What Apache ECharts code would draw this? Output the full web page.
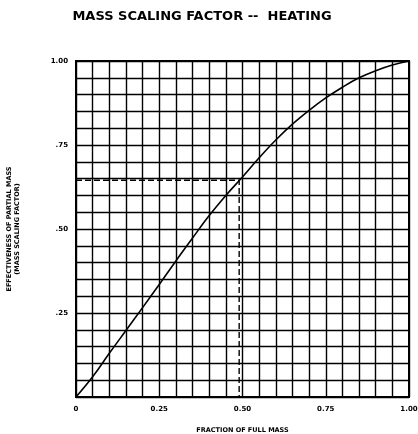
<!DOCTYPE html>
<html>
<head>
<meta charset="utf-8">
<script src="https://cdn.jsdelivr.net/npm/echarts@6/dist/echarts.min.js"></script>
<style>
  html, body { margin: 0; padding: 0; background: #fff; }
  #chart { width: 418px; height: 434px; }
</style>
</head>
<body>
<div id="chart"></div>
<script>
// Fraction of full mass (x) and effectiveness of partial mass (y)
var massFraction = [0, 0.05, 0.10, 0.15, 0.20, 0.25, 0.30, 0.35, 0.40, 0.45, 0.50,
                    0.55, 0.60, 0.65, 0.70, 0.75, 0.80, 0.85, 0.90, 0.95, 1.00];
var scalingFactor = [0, 0.06, 0.13, 0.198, 0.266, 0.335, 0.405, 0.473, 0.54, 0.60, 0.655,
                     0.712, 0.765, 0.812, 0.853, 0.89, 0.922, 0.95, 0.971, 0.988, 1.00];

// Worked example read-off point (dashed guide lines)
var examplePoint = [0.49, 0.645];

// Tick labels
var xTickLabels = { '0': '0', '0.25': '0.25', '0.5': '0.50', '0.75': '0.75', '1': '1.00' };
var yTickLabels = { '0.25': '.25', '0.5': '.50', '0.75': '.75', '1': '1.00' };

function keyOf(v) { return String(Math.round(v * 100) / 100); }

var curve = massFraction.map(function (x, i) { return [x, scalingFactor[i]]; });
var guide = [[0, examplePoint[1]], [examplePoint[0], examplePoint[1]], [examplePoint[0], 0]];

var chart = echarts.init(document.getElementById('chart'), null, { renderer: 'canvas' });
var labelFont = { color: '#000', fontFamily: 'DejaVu Sans', fontWeight: 'bold', fontSize: 7 };

chart.setOption({
  backgroundColor: '#fff',
  animation: false,
  title: {
    text: 'MASS SCALING FACTOR --  HEATING',
    left: 197, top: 5, textAlign: 'center',
    textStyle: { color: '#000', fontFamily: 'DejaVu Sans', fontWeight: 'bold', fontSize: 13 }
  },
  grid: {
    left: 76, right: 9, top: 61, bottom: 37,
    outerBoundsMode: 'none', containLabel: false,
    show: true, borderColor: '#000', borderWidth: 2, backgroundColor: '#fff'
  },
  xAxis: {
    type: 'value', min: 0, max: 1, interval: 0.05,
    name: 'FRACTION OF FULL MASS',
    nameLocation: 'middle', nameGap: 30,
    nameTextStyle: { color: '#000', fontFamily: 'DejaVu Sans', fontWeight: 'bold', fontSize: 6.5 },
    axisLine: { show: true, lineStyle: { color: '#000', width: 2 } },
    axisTick: { show: false },
    splitLine: { show: true, lineStyle: { color: '#000', width: 1.4 } },
    axisLabel: Object.assign({
      margin: 9,
      showMinLabel: true, showMaxLabel: true,
      formatter: function (v) { var t = xTickLabels[keyOf(v)]; return t === undefined ? '' : t; }
    }, labelFont)
  },
  yAxis: {
    type: 'value', min: 0, max: 1, interval: 0.05,
    name: 'EFFECTIVENESS OF PARTIAL MASS\n(MASS SCALING FACTOR)',
    nameLocation: 'middle', nameGap: 55, nameRotate: 90,
    nameTextStyle: { color: '#000', fontFamily: 'DejaVu Sans', fontWeight: 'bold', fontSize: 6.5, lineHeight: 8, align: 'center' },
    axisLine: { show: true, lineStyle: { color: '#000', width: 2 } },
    axisTick: { show: false },
    splitLine: { show: true, lineStyle: { color: '#000', width: 1.4 } },
    axisLabel: Object.assign({
      margin: 8,
      showMinLabel: true, showMaxLabel: true,
      formatter: function (v) { var t = yTickLabels[keyOf(v)]; return t === undefined ? '' : t; }
    }, labelFont)
  },
  series: [
    {
      type: 'line', data: curve, smooth: 0.4, showSymbol: false,
      lineStyle: { color: '#000', width: 1.6 }, z: 3
    },
    {
      type: 'line', data: guide, showSymbol: false,
      lineStyle: { color: '#000', width: 1.4, type: [6, 3] }, z: 2
    }
  ]
});
</script>
</body>
</html>
